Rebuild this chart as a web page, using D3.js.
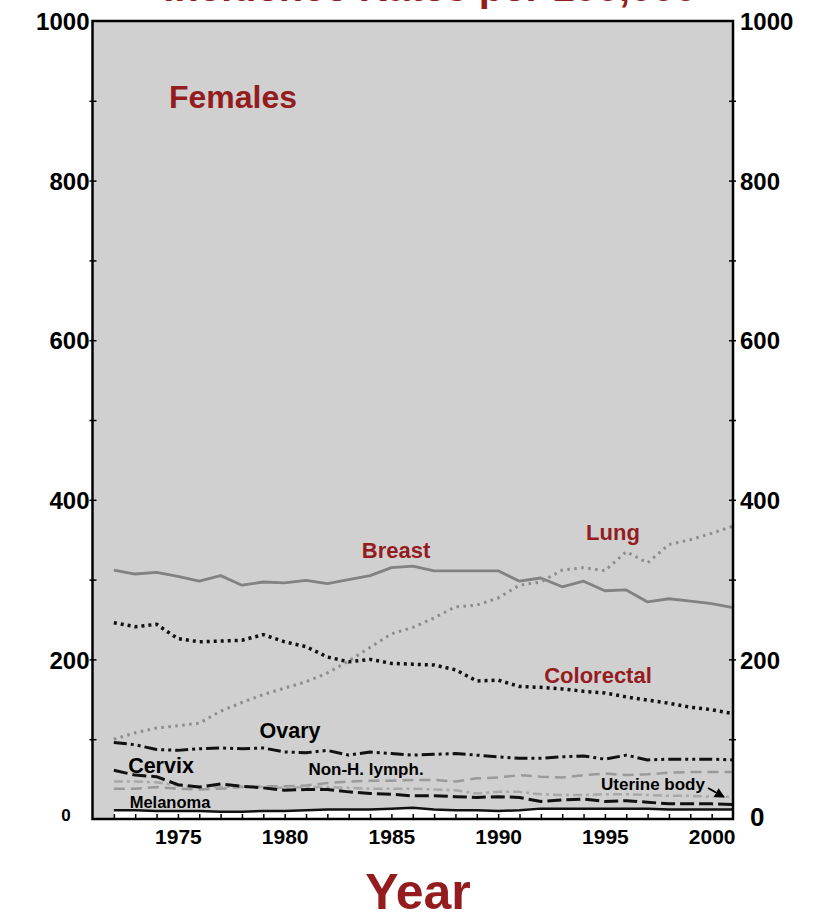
<!DOCTYPE html>
<html lang="en">
<head>
	<meta charset="UTF-8">
	<title>Females</title>
	<script src="https://cdn.jsdelivr.net/npm/d3@7"></script>
	<style>
		body{
			margin:0;
			background:white;
		}
		svg{
			display:block;
			font-family:"Liberation Sans", Arial, sans-serif;
			font-weight:bold;
		}
		.plotbg{
			fill:#d0d0d0;
		}
		.frame{
			fill:none;
			stroke:black;
			stroke-width:2.5;
		}
		.red{
			fill:#941c1f;
		}
		.line{
			fill:none;
			stroke-linejoin:round;
		}
	</style>
</head>
<body>
	<svg width="819" height="916"></svg>
	<script>
		// data, 1972 - 2001
		var years = d3.range(1972, 2002);
		var breast = [312,307,309,304,298,305,293,297,296,299,295,300,305,315,317,311,311,311,311,298,302,291,298,286,287,272,276,273,270,265];
		var lung = [100,108,114,117,120,135,146,156,164,172,183,198,215,232,240,252,266,268,277,293,297,312,315,311,335,321,344,350,358,367];
		var colorectal = [246,241,244,226,222,223,224,231,222,216,203,197,200,195,194,193,187,173,174,166,165,163,160,158,153,149,145,140,137,132];
		var ovary = [96,93,87,86,88,89,88,89,84,83,86,80,84,82,80,81,82,80,78,76,76,78,79,75,80,74,75,75,75,74];
		var nhl = [38,38,40,38,37,38,40,41,41,42,45,47,48,48,49,49,47,51,52,55,53,52,55,57,55,56,58,59,59,59];
		var uterine = [47,47,46,42,40,40,41,40,39,40,40,39,38,38,38,37,36,32,34,34,31,30,30,31,31,30,29,29,28,28];
		var cervix = [61,55,53,43,40,44,41,39,36,37,37,34,32,31,29,29,28,27,28,27,22,24,25,22,23,21,19,19,19,18];
		var melanoma = [11,11,10,10,10,9,9,10,10,11,12,12,12,13,14,12,11,11,10,11,13,13,13,13,13,13,12,12,12,12];

		var yLabelTicks = [200,400,600,800,1000];
		var yMinorTicks = d3.range(100, 1000, 100);
		var xLabelTicks = [1975,1980,1985,1990,1995,2000];

		(function(){
		var svg = d3.select("svg");
		var pLeft = 92.5, pRight = 733, pTop = 21, pBottom = 819;
		var fmt = d3.format("d");

		var x = d3.scaleLinear().domain([1971, 2001]).range([pLeft, pRight]);
		var y = d3.scaleLinear().domain([0, 1000]).range([pBottom, pTop]);

		// cut-off title at the very top
		svg.append("text")
			.attr("class","red")
			.attr("x",430).attr("y",1)
			.attr("text-anchor","middle")
			.style("font-size","40px")
			.text("Incidence Rates per 100,000");

		svg.append("rect")
			.attr("class","plotbg")
			.attr("x",pLeft).attr("y",pTop)
			.attr("width",pRight-pLeft).attr("height",pBottom-pTop);

		// white area under melanoma
		var area = d3.area()
			.x((d,i)=>x(years[i]))
			.y0(y(0))
			.y1(d=>y(d));
		svg.append("path")
			.datum(melanoma)
			.attr("d",area)
			.attr("fill","white");

		var line = d3.line()
			.x((d,i)=>x(years[i]))
			.y(d=>y(d));

		var series = [
			{v:breast, color:"#828282", w:2.8, dash:null},
			{v:lung, color:"#8c8c8c", w:3, dash:"2.5,4.5"},
			{v:colorectal, color:"#111", w:3.5, dash:"3,4"},
			{v:nhl, color:"#9a9a9a", w:2.5, dash:"11,6"},
			{v:uterine, color:"#a8a8a8", w:2.5, dash:"9,4,3,4"},
			{v:ovary, color:"#111", w:3, dash:"13,4,3,4,3,4"},
			{v:cervix, color:"#111", w:3, dash:"14,5"},
			{v:melanoma, color:"#111", w:2.5, dash:null}
		];

		svg.append("g").selectAll("path")
			.data(series)
			.enter().append("path")
			.attr("class","line")
			.attr("d",d=>line(d.v))
			.attr("stroke",d=>d.color)
			.attr("stroke-width",d=>d.w)
			.attr("stroke-dasharray",d=>d.dash);

		// y axes: minor ticks crossing the frame
		var gl = svg.append("g").attr("transform","translate("+pLeft+",0)")
			.call(d3.axisLeft(y).tickValues(yMinorTicks).tickSize(4).tickFormat(""));
		gl.select(".domain").remove();
		gl.selectAll(".tick line").attr("x2",-3).attr("x1",4).attr("stroke-width",1.5);

		var gr = svg.append("g").attr("transform","translate("+pRight+",0)")
			.call(d3.axisRight(y).tickValues(yMinorTicks).tickSize(4).tickFormat(""));
		gr.select(".domain").remove();
		gr.selectAll(".tick line").attr("x2",3).attr("x1",-4).attr("stroke-width",1.5);

		// y labels
		var yl = svg.append("g").attr("transform","translate("+(pLeft-3)+",0)")
			.call(d3.axisLeft(y).tickValues(yLabelTicks).tickSize(0).tickPadding(0).tickFormat(fmt));
		yl.select(".domain").remove();
		yl.selectAll("text").style("font-size","24px").attr("fill","black")
			.attr("font-family",null).attr("dy","0.36em");

		var yr = svg.append("g").attr("transform","translate("+(pRight+7)+",0)")
			.call(d3.axisRight(y).tickValues(yLabelTicks.concat([0])).tickSize(0).tickPadding(0).tickFormat(fmt));
		yr.select(".domain").remove();
		yr.selectAll("text").style("font-size","24px").attr("fill","black")
			.attr("font-family",null).attr("dy","0.36em");
		yr.selectAll(".tick").filter(d=>d===0).select("text")
			.style("font-size","26px").attr("x",10).attr("dy","0.25em");

		// small left zero
		svg.append("text")
			.attr("x",66).attr("y",y(0)-4)
			.attr("dy","0.36em")
			.attr("text-anchor","middle")
			.style("font-size","17px")
			.text("0");

		// x axis: inner ticks each year
		var gx = svg.append("g").attr("transform","translate(0,"+pBottom+")")
			.call(d3.axisBottom(x).tickValues(d3.range(1972, 2001)).tickSize(-5).tickFormat(""));
		gx.select(".domain").remove();
		gx.selectAll(".tick line").attr("stroke-width",1.5);

		var gxl = svg.append("g").attr("transform","translate(0,"+pBottom+")")
			.call(d3.axisBottom(x).tickValues(xLabelTicks).tickSize(0).tickPadding(10).tickFormat(fmt));
		gxl.select(".domain").remove();
		gxl.selectAll("text").style("font-size","21px").attr("fill","black").attr("font-family",null);

		svg.append("rect")
			.attr("class","frame")
			.attr("x",pLeft).attr("y",pTop)
			.attr("width",pRight-pLeft).attr("height",pBottom-pTop);

		// labels
		var labels = [
			{t:"Females", x:233, y:108, size:32, red:true},
			{t:"Breast", x:396, y:558, size:22, red:true},
			{t:"Lung", x:613, y:540, size:22, red:true},
			{t:"Colorectal", x:598, y:683, size:22, red:true},
			{t:"Ovary", x:290, y:738, size:21.5, red:false},
			{t:"Cervix", x:161, y:773, size:21.5, red:false},
			{t:"Non-H. lymph.", x:366, y:775, size:17, red:false},
			{t:"Uterine body", x:653, y:790, size:17, red:false},
			{t:"Melanoma", x:170, y:808, size:16.5, red:false}
		];
		svg.append("g").selectAll("text")
			.data(labels)
			.enter().append("text")
			.attr("class",d=>d.red?"red":null)
			.attr("x",d=>d.x).attr("y",d=>d.y)
			.attr("text-anchor","middle")
			.style("font-size",d=>d.size+"px")
			.text(d=>d.t);

		// arrow to uterine body
		svg.append("defs").append("marker")
			.attr("id","head")
			.attr("viewBox","0 0 10 10")
			.attr("refX",9).attr("refY",5)
			.attr("markerWidth",5).attr("markerHeight",5)
			.attr("orient","auto")
			.append("path").attr("d","M0,0L10,5L0,10z");
		svg.append("line")
			.attr("x1",708).attr("y1",788)
			.attr("x2",724).attr("y2",797)
			.attr("stroke","black").attr("stroke-width",2)
			.attr("marker-end","url(#head)");

		svg.append("text")
			.attr("class","red")
			.attr("x",418).attr("y",909)
			.attr("text-anchor","middle")
			.style("font-size","50px")
			.text("Year");
		})();
	</script>
</body>
</html>
